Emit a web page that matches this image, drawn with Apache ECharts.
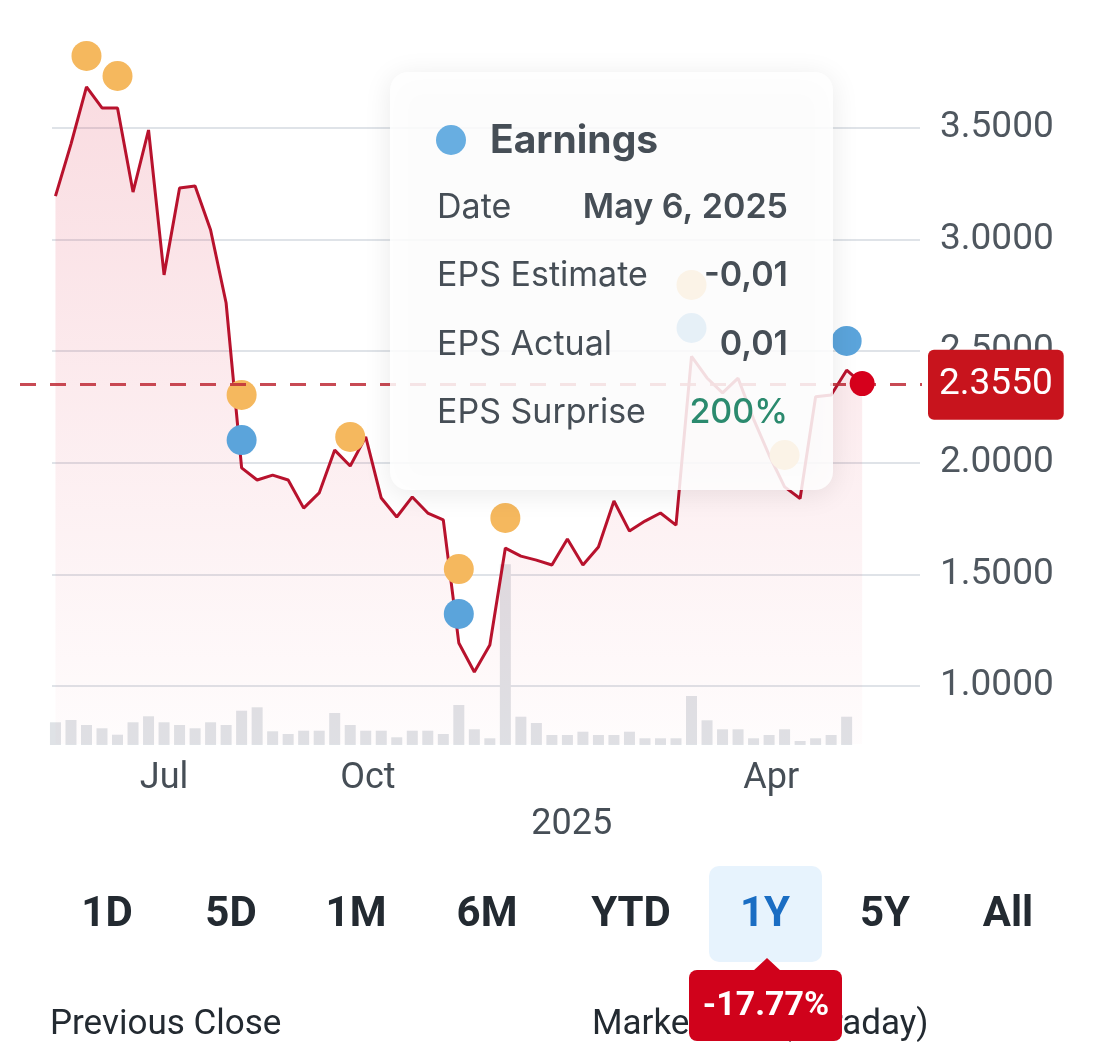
<!DOCTYPE html>
<html>
<head>
<meta charset="utf-8">
<script src="https://cdn.jsdelivr.net/npm/echarts@6/dist/echarts.min.js"></script>
<style>
html,body{margin:0;padding:0;background:#fff;}
#chart{width:1116px;height:1052px;}
</style>
</head>
<body>
<div id="chart"></div>
<script>
// ---------- DATA ----------
const weekDates = [
  '2024-05-13','2024-05-20','2024-05-27','2024-06-03','2024-06-10','2024-06-17','2024-06-24',
  '2024-07-01','2024-07-08','2024-07-15','2024-07-22','2024-07-29','2024-08-05','2024-08-12',
  '2024-08-19','2024-08-26','2024-09-02','2024-09-09','2024-09-16','2024-09-23','2024-09-30',
  '2024-10-07','2024-10-14','2024-10-21','2024-10-28','2024-11-04','2024-11-11','2024-11-18',
  '2024-11-25','2024-12-02','2024-12-09','2024-12-16','2024-12-23','2024-12-30','2025-01-06',
  '2025-01-13','2025-01-20','2025-01-27','2025-02-03','2025-02-10','2025-02-17','2025-02-24',
  '2025-03-03','2025-03-10','2025-03-17','2025-03-24','2025-03-31','2025-04-07','2025-04-14',
  '2025-04-21','2025-04-28','2025-05-05','2025-05-12'
];
const closePrices = [
  3.195, 3.428, 3.684, 3.590, 3.590, 3.213, 3.491, 2.842, 3.231, 3.240,
  3.043, 2.716, 1.977, 1.923, 1.945, 1.923, 1.797, 1.865, 2.057, 1.986,
  2.116, 1.842, 1.757, 1.847, 1.775, 1.744, 1.193, 1.063, 1.184, 1.618,
  1.582, 1.564, 1.542, 1.659, 1.542, 1.623, 1.829, 1.694, 1.739, 1.775,
  1.721, 2.477, 2.380, 2.313, 2.379, 2.196, 2.035, 1.892, 1.840, 2.296,
  2.304, 2.415, 2.355
];
const volumeM = [
  2.27, 2.50, 2.00, 1.67, 1.03, 2.27, 2.87, 2.27, 2.00, 1.67,
  2.27, 2.00, 3.43, 3.77, 1.37, 1.10, 1.43, 1.43, 3.20, 2.00,
  1.43, 1.43, 0.77, 1.43, 1.43, 1.10, 4.00, 1.57, 0.67, 18.07,
  2.83, 2.20, 1.00, 1.00, 1.33, 1.00, 1.00, 1.33, 0.67, 0.67,
  0.67, 4.90, 2.47, 1.57, 1.57, 0.67, 1.00, 1.57, 0.40, 0.67,
  1.00, 2.83
];
const estimateMarkDates  = ['2024-05-27','2024-06-10','2024-08-05','2024-09-23','2024-11-11','2024-12-02','2025-02-24','2025-04-07'];
const estimateMarkValues = [3.823, 3.733, 2.304, 2.116, 1.524, 1.753, 2.797, 2.035];
const actualMarkDates    = ['2024-08-05','2024-11-11','2025-02-24','2025-05-05'];
const actualMarkValues   = [2.102, 1.323, 2.604, 2.546];

const xTickDates = ['2024-07-01', '2024-10-01', '2025-01-01', '2025-04-01'];
const xTickLabels = ['Jul', 'Oct', '\n2025', 'Apr'];

const tipTitle = 'Earnings';
const tipRowLabels = ['Date', 'EPS Estimate', 'EPS Actual', 'EPS Surprise'];
const tipRowValues = ['May 6, 2025', '-0,01', '0,01', '200%'];

const rangeButtons = ['1D','5D','1M','6M','YTD','1Y','5Y','All'];
const selectedRange = '1Y';
const rangeChange = '-17.77%';
const statLabels = ['Previous Close', 'Market Cap (intraday)'];

// ---------- BUILD ----------
const toTime = s => +new Date(s + 'T00:00:00');
const lastClose = closePrices[closePrices.length - 1];
const lastDate = weekDates[weekDates.length - 1];
const priceData = weekDates.map((d, i) => [toTime(d), closePrices[i]]);
const volumeData = volumeM.map((v, i) => [toTime(weekDates[i]), v]);
const estData = estimateMarkDates.map((d, i) => [toTime(d), estimateMarkValues[i]]);
const actData = actualMarkDates.map((d, i) => [toTime(d), actualMarkValues[i]]);
const xTickTimes = xTickDates.map(toTime);

const xMin = toTime('2024-04-27');
const xMax = toTime('2025-06-08');
const FONT = 'Roboto, "Liberation Sans", sans-serif';
const TIPFONT = 'Inter, Roboto, sans-serif';
const ORANGE = '#f5b85e';
const BLUE = '#5ba4db';

const chart = echarts.init(document.getElementById('chart'), null, {renderer: 'canvas'});

// layout for graphic UI parts
const buttonX = [107, 231, 356, 487, 631, 765, 885, 1008];
const tipRowY = [208, 276, 345, 413];

const graphics = [];
graphics.push({
  type: 'rect', z: 100,
  shape: {x: 390, y: 72, width: 443, height: 418, r: 18},
  style: {fill: 'rgba(255,255,255,0.86)', shadowBlur: 28, shadowColor: 'rgba(0,0,0,0.10)', shadowOffsetY: 4}
});
graphics.push({
  type: 'circle', z: 101,
  shape: {cx: 451, cy: 140, r: 15},
  style: {fill: '#68aee1'}
});
graphics.push({
  type: 'text', z: 101, x: 490, y: 141,
  style: {text: tipTitle, fontFamily: TIPFONT, fontSize: 39, fontWeight: 'bold', fill: '#464e56', align: 'left', verticalAlign: 'middle'}
});
tipRowLabels.forEach((lab, i) => {
  graphics.push({
    type: 'text', z: 101, x: 437, y: tipRowY[i],
    style: {text: lab, fontFamily: TIPFONT, fontSize: 34, fill: '#464e56', align: 'left', verticalAlign: 'middle'}
  });
  graphics.push({
    type: 'text', z: 101, x: 788, y: tipRowY[i],
    style: {text: tipRowValues[i], fontFamily: TIPFONT, fontSize: 34, fontWeight: i === 3 ? 500 : 600,
      fill: i === 3 ? '#2b8a6e' : '#464e56', align: 'right', verticalAlign: 'middle'}
  });
});
graphics.push({
  type: 'rect', z: 10,
  shape: {x: 709, y: 866, width: 113, height: 96, r: 10},
  style: {fill: '#e7f3fd'}
});
rangeButtons.forEach((b, i) => {
  graphics.push({
    type: 'text', z: 11, x: buttonX[i], y: 915,
    style: {text: b, fontFamily: FONT, fontSize: 42, fontWeight: 'bold',
      fill: b === selectedRange ? '#1a6dc3' : '#232a31', align: 'center', verticalAlign: 'middle'}
  });
});
graphics.push({
  type: 'text', z: 10, x: 50, y: 1025,
  style: {text: statLabels[0], fontFamily: FONT, fontSize: 35, fill: '#232a31', align: 'left', verticalAlign: 'middle'}
});
graphics.push({
  type: 'text', z: 10, x: 592, y: 1025,
  style: {text: statLabels[1], fontFamily: FONT, fontSize: 35, fill: '#232a31', align: 'left', verticalAlign: 'middle'}
});
graphics.push({
  type: 'polygon', z: 20,
  shape: {points: [[752, 972], [767, 958], [782, 972]]},
  style: {fill: '#d0021b'}
});
graphics.push({
  type: 'rect', z: 20,
  shape: {x: 689, y: 970, width: 153, height: 71, r: 8},
  style: {fill: '#d0021b'}
});
graphics.push({
  type: 'text', z: 21, x: 766, y: 1006,
  style: {text: rangeChange, fontFamily: FONT, fontSize: 34, fontWeight: 'bold', fill: '#ffffff', align: 'center', verticalAlign: 'middle'}
});

const option = {
  animation: false,
  backgroundColor: '#ffffff',
  textStyle: {fontFamily: FONT},
  grid: [
    {left: 20, right: 194, top: 16.4, bottom: 254.4},
    {left: 52, right: 196, top: 16.4, bottom: 254.4},
    {left: 20, right: 194, top: 545, bottom: 307}
  ],
  xAxis: [
    {type: 'value', gridIndex: 0, min: xMin, max: xMax, show: false},
    {type: 'value', gridIndex: 1, min: 0, max: 1, show: false},
    {type: 'value', gridIndex: 2, min: xMin, max: xMax,
      axisLine: {show: false}, axisTick: {show: false}, splitLine: {show: false},
      axisLabel: {
        show: true, margin: 11, fontSize: 36, lineHeight: 46, color: '#464e56', fontFamily: FONT,
        customValues: xTickTimes,
        formatter: function (value) {
          const k = xTickTimes.indexOf(value);
          return k >= 0 ? xTickLabels[k] : '';
        }
      }
    }
  ],
  yAxis: [
    {type: 'value', gridIndex: 0, min: 0.5, max: 4.0, show: false},
    {type: 'value', gridIndex: 1, min: 0.5, max: 4.0, interval: 0.5, position: 'right',
      axisLine: {show: false}, axisTick: {show: false},
      splitLine: {show: true, showMinLine: false, showMaxLine: false, lineStyle: {color: '#dfe3e8', width: 2}},
      axisLabel: {
        margin: 20, fontSize: 37, color: '#4f575f', fontFamily: FONT,
        showMinLabel: false, showMaxLabel: false,
        formatter: v => v.toFixed(4)
      }
    },
    {type: 'value', gridIndex: 2, min: 0, max: 20, show: false}
  ],
  graphic: {elements: graphics},
  series: [
    {
      name: 'Volume', type: 'bar', xAxisIndex: 2, yAxisIndex: 2, z: 2,
      barWidth: 11, data: volumeData, silent: true,
      itemStyle: {color: '#dfe2e6'}
    },
    {
      name: 'Price', type: 'line', xAxisIndex: 0, yAxisIndex: 0, z: 3,
      data: priceData, showSymbol: false, silent: true,
      lineStyle: {color: '#b8122d', width: 3},
      areaStyle: {
        origin: 0.74,
        color: new echarts.graphic.LinearGradient(0, 0, 0, 1, [
          {offset: 0, color: 'rgba(222,40,70,0.23)'},
          {offset: 0.6, color: 'rgba(222,40,70,0.10)'},
          {offset: 1, color: 'rgba(222,40,70,0.02)'}
        ])
      },
      markLine: {
        silent: true, symbol: 'none', animation: false,
        lineStyle: {type: [16, 14], color: 'rgba(190,42,54,0.85)', width: 3},
        label: {
          show: true, position: 'end', distance: 6,
          formatter: () => lastClose.toFixed(4),
          color: '#ffffff', fontSize: 37, fontFamily: FONT, lineHeight: 42,
          backgroundColor: '#c8141d', borderRadius: 6, padding: [14, 11, 14, 11]
        },
        data: [{yAxis: lastClose}]
      }
    },
    {
      name: 'EPS Estimate', type: 'scatter', xAxisIndex: 0, yAxisIndex: 0, z: 4,
      data: estData, symbolSize: 30, silent: true,
      itemStyle: {color: ORANGE, opacity: 1}
    },
    {
      name: 'EPS Actual', type: 'scatter', xAxisIndex: 0, yAxisIndex: 0, z: 4,
      data: actData, symbolSize: 30, silent: true,
      itemStyle: {color: BLUE, opacity: 1}
    },
    {
      name: 'Last', type: 'scatter', xAxisIndex: 0, yAxisIndex: 0, z: 5,
      data: [[toTime(lastDate), lastClose]], symbolSize: 25, silent: true,
      itemStyle: {color: '#d6001c', opacity: 1}
    }
  ]
};
chart.setOption(option);
</script>
</body>
</html>
